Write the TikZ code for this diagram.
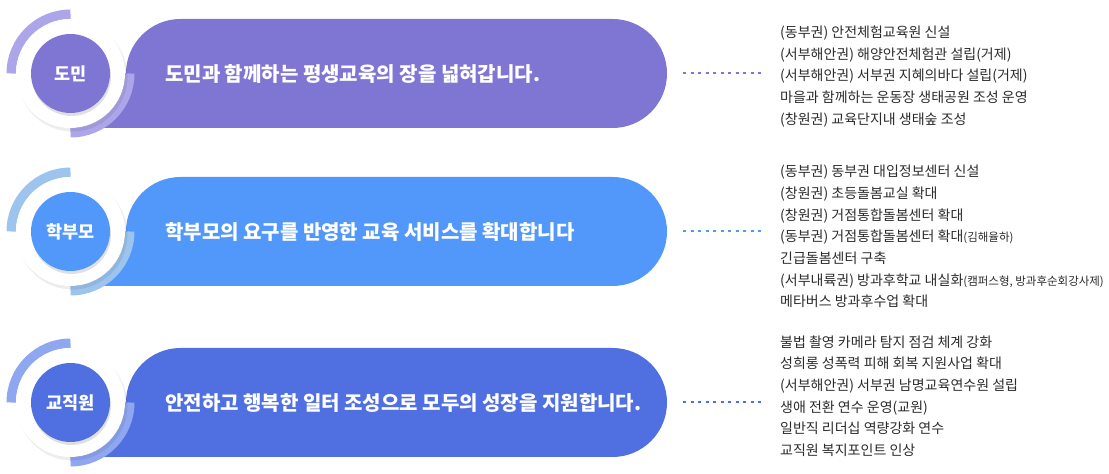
\documentclass[tikz,border=0pt]{standalone}
\usepackage{fontspec}
\setmainfont{Noto Sans CJK KR}
\usetikzlibrary{positioning}
\definecolor{violetmain}{HTML}{7F76D3}
\definecolor{violetring}{HTML}{ACA5EA}
\definecolor{skymain}{HTML}{5198FA}
\definecolor{skyring}{HTML}{9DC4EE}
\definecolor{royalmain}{HTML}{5070E2}
\definecolor{royalring}{HTML}{8FA7F0}
\definecolor{txtgray}{HTML}{2B2B2B}

\begin{document}
\begin{tikzpicture}[
  x=1pt,y=1pt,
  ring/.style={line width=9.5pt},
  badge/.style={circle,minimum size=79pt,inner sep=0pt,text=white,font=\bfseries\fontsize{17.5}{19}\selectfont},
  lead/.style={anchor=west,inner sep=0pt,text=white,font=\bfseries\fontsize{20}{24}\selectfont},
  items/.style={anchor=west,inner sep=0pt,align=left,text=txtgray,font=\fontsize{14}{21.7}\selectfont},
  dotline/.style={line width=2pt,dash pattern=on 3pt off 4.5pt}
]
\useasboundingbox (0,0) rectangle (1109,474);

% row 1
\fill[violetmain] (70.5,346) -- (612.5,346) arc[start angle=-90,end angle=90,radius=54.5]
  -- (180.5,455) arc[start angle=90,end angle=180,radius=54.5] -- (70.5,400.5) -- cycle;
\draw[ring,violetring] (70.5,400.5) ++(180:59.25) arc[start angle=180,end angle=90,radius=59.25];
\draw[ring,violetring] (70.5,400.5) ++(0:59.25) arc[start angle=0,end angle=-90,radius=59.25];
\fill[black,opacity=.07] (72.5,397.5) circle[radius=55];
\fill[white] (70.5,400.5) circle[radius=54.5];
\fill[black,opacity=.12] (71.5,397.5) circle[radius=39.5];
\node[badge,fill=violetmain] (b1) at (70.5,400.5) {도민};
\node[lead] (t1) at (165,400.5) {도민과 함께하는 평생교육의 장을 넓혀갑니다.};
\coordinate (e1) at (667,400.5);
\node[items] (l1) at (780,397.5) {(동부권) 안전체험교육원 신설\\(서부해안권) 해양안전체험관 설립(거제)\\(서부해안권) 서부권 지혜의바다 설립(거제)\\마을과 함께하는 운동장 생태공원 조성 운영\\(창원권) 교육단지내 생태숲 조성};
\draw[dotline,violetmain] ([xshift=16pt]e1) -- ([xshift=-16pt]e1 -| l1.west);

% row 2
\fill[skymain] (70.5,188) -- (612.5,188) arc[start angle=-90,end angle=90,radius=54.5]
  -- (180.5,297) arc[start angle=90,end angle=180,radius=54.5] -- (70.5,242.5) -- cycle;
\draw[ring,skyring] (70.5,242.5) ++(180:59.25) arc[start angle=180,end angle=90,radius=59.25];
\draw[ring,skyring] (70.5,242.5) ++(0:59.25) arc[start angle=0,end angle=-90,radius=59.25];
\fill[black,opacity=.07] (72.5,239.5) circle[radius=55];
\fill[white] (70.5,242.5) circle[radius=54.5];
\fill[black,opacity=.12] (71.5,239.5) circle[radius=39.5];
\node[badge,fill=skymain] (b2) at (70.5,242.5) {학부모};
\node[lead] (t2) at (165,242.5) {학부모의 요구를 반영한 교육 서비스를 확대합니다};
\coordinate (e2) at (667,242.5);
\node[items] (l2) at (780,237.5) {(동부권) 동부권 대입정보센터 신설\\(창원권) 초등돌봄교실 확대\\(창원권) 거점통합돌봄센터 확대\\(동부권) 거점통합돌봄센터 확대{\fontsize{11.5}{11.5}\selectfont(김해율하)}\\긴급돌봄센터 구축\\(서부내륙권) 방과후학교 내실화{\fontsize{11.5}{11.5}\selectfont(캠퍼스형, 방과후순회강사제)}\\메타버스 방과후수업 확대};
\draw[dotline,skymain] ([xshift=16pt]e2) -- ([xshift=-16pt]e2 -| l2.west);

% row 3
\fill[royalmain] (70.5,17) -- (612.5,17) arc[start angle=-90,end angle=90,radius=54.5]
  -- (180.5,126) arc[start angle=90,end angle=180,radius=54.5] -- (70.5,71.5) -- cycle;
\draw[ring,royalring] (70.5,71.5) ++(180:59.25) arc[start angle=180,end angle=90,radius=59.25];
\draw[ring,royalring] (70.5,71.5) ++(0:59.25) arc[start angle=0,end angle=-90,radius=59.25];
\fill[black,opacity=.07] (72.5,68.5) circle[radius=55];
\fill[white] (70.5,71.5) circle[radius=54.5];
\fill[black,opacity=.12] (71.5,68.5) circle[radius=39.5];
\node[badge,fill=royalmain] (b3) at (70.5,71.5) {교직원};
\node[lead] (t3) at (165,71.5) {안전하고 행복한 일터 조성으로 모두의 성장을 지원합니다.};
\coordinate (e3) at (667,71.5);
\node[items] (l3) at (780,78) {불법 촬영 카메라 탐지 점검 체계 강화\\성희롱 성폭력 피해 회복 지원사업 확대\\(서부해안권) 서부권 남명교육연수원 설립\\생애 전환 연수 운영(교원)\\일반직 리더십 역량강화 연수\\교직원 복지포인트 인상};
\draw[dotline,royalmain] ([xshift=16pt]e3) -- ([xshift=-16pt]e3 -| l3.west);
\end{tikzpicture}
\end{document}
